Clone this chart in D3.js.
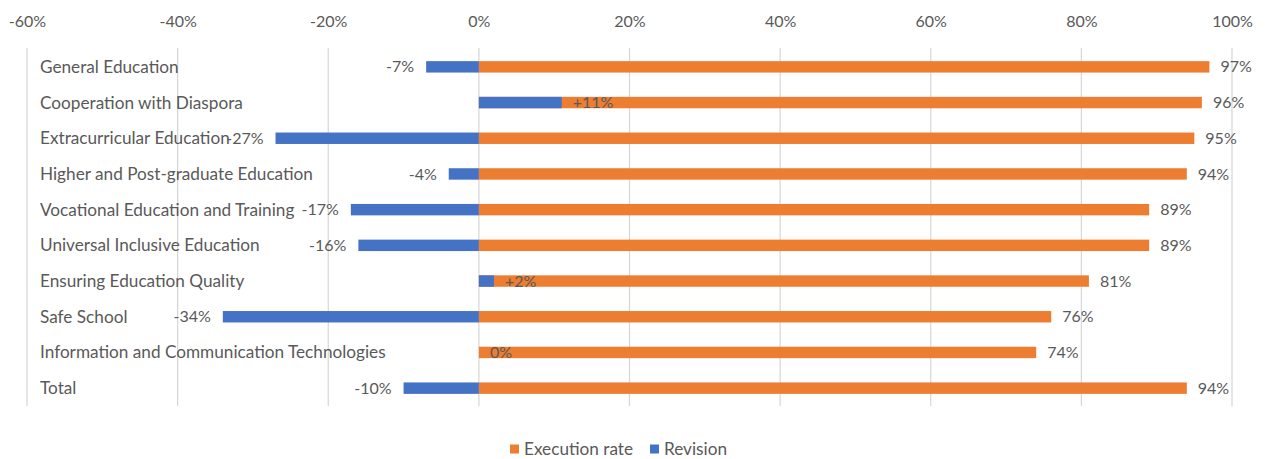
<!DOCTYPE html>
<html>
<head>
<meta charset="utf-8">
<script src="https://cdn.jsdelivr.net/npm/d3@7"></script>
<style>
  html, body { margin: 0; padding: 0; background: #fff; }
  svg text { font-family: Lato, "Open Sans", sans-serif; fill: #595959; }
</style>
</head>
<body>
<svg id="chart" width="1269" height="459"></svg>
<script>
// Budget programmes: execution rate and revision (%)
const categories = [
  "General Education",
  "Cooperation with Diaspora",
  "Extracurricular Education",
  "Higher and Post-graduate Education",
  "Vocational Education and Training",
  "Universal Inclusive Education",
  "Ensuring Education Quality",
  "Safe School",
  "Information and Communication Technologies",
  "Total"
];
const executionRate = [97, 96, 95, 94, 89, 89, 81, 76, 74, 94];
const revision = [-7, 11, -27, -4, -17, -16, 2, -34, 0, -10];
const xTicks = [-60, -40, -20, 0, 20, 40, 60, 80, 100];
const seriesNames = ["Execution rate", "Revision"];
const seriesColors = ["#ED7D31", "#4472C4"];

const svg = d3.select("#chart");
const NUM_FONT = 16;
const CAT_FONT = 17.2;

const x = d3.scaleLinear().domain([-60, 100]).range([27, 1232]);
const y = d3.scaleBand().domain(categories).range([49, 406]);
const barH = y.bandwidth() * 0.32;

// vertical gridlines
svg.append("g")
  .selectAll("line")
  .data(xTicks)
  .join("line")
  .attr("x1", d => x(d)).attr("x2", d => x(d))
  .attr("y1", 48).attr("y2", 406)
  .attr("stroke", "#d6d6d6")
  .attr("stroke-width", 1.2);

// top axis labels
const axis = svg.append("g")
  .attr("transform", "translate(0,27)")
  .call(d3.axisTop(x).tickValues(xTicks).tickFormat(d => d + "%").tickSize(0).tickPadding(0));
axis.select(".domain").remove();
axis.selectAll("text")
  .style("font-size", NUM_FONT + "px")
  .style("font-family", "Lato, 'Open Sans', sans-serif")
  .attr("fill", "#595959");

// category labels
svg.append("g")
  .selectAll("text")
  .data(categories)
  .join("text")
  .attr("x", 40)
  .attr("y", d => y(d) + y.bandwidth() / 2)
  .attr("dy", "0.35em")
  .style("font-size", CAT_FONT + "px")
  .text(d => d);

const rows = categories.map((c, i) => ({ c, exec: executionRate[i], rev: revision[i] }));

// execution rate bars
svg.append("g")
  .selectAll("rect")
  .data(rows)
  .join("rect")
  .attr("x", x(0))
  .attr("y", d => y(d.c) + (y.bandwidth() - barH) / 2)
  .attr("width", d => x(d.exec) - x(0))
  .attr("height", barH)
  .attr("fill", seriesColors[0]);

// revision bars (drawn over the execution bars)
svg.append("g")
  .selectAll("rect")
  .data(rows)
  .join("rect")
  .attr("x", d => Math.min(x(0), x(d.rev)))
  .attr("y", d => y(d.c) + (y.bandwidth() - barH) / 2)
  .attr("width", d => Math.abs(x(d.rev) - x(0)))
  .attr("height", barH)
  .attr("fill", seriesColors[1]);

// execution rate labels
svg.append("g")
  .selectAll("text")
  .data(rows)
  .join("text")
  .attr("x", d => x(d.exec) + 11)
  .attr("y", d => y(d.c) + y.bandwidth() / 2)
  .attr("dy", "0.35em")
  .style("font-size", NUM_FONT + "px")
  .text(d => d.exec + "%");

// revision labels
svg.append("g")
  .selectAll("text")
  .data(rows)
  .join("text")
  .attr("x", d => d.rev < 0 ? x(d.rev) - 12 : x(d.rev) + 11)
  .attr("y", d => y(d.c) + y.bandwidth() / 2)
  .attr("dy", "0.35em")
  .attr("text-anchor", d => d.rev < 0 ? "end" : "start")
  .style("font-size", NUM_FONT + "px")
  .text(d => (d.rev > 0 ? "+" : "") + d.rev + "%");

// legend
const legend = svg.append("g").attr("transform", "translate(510,449)");
const legendX = [0, 140];
seriesNames.forEach((name, i) => {
  const g = legend.append("g").attr("transform", `translate(${legendX[i]},0)`);
  g.append("rect").attr("x", 0).attr("y", -4.5).attr("width", 9).attr("height", 9).attr("fill", seriesColors[i]);
  g.append("text").attr("x", 14).attr("y", 0).attr("dy", "0.35em").style("font-size", CAT_FONT + "px").text(name);
});
</script>
</body>
</html>
